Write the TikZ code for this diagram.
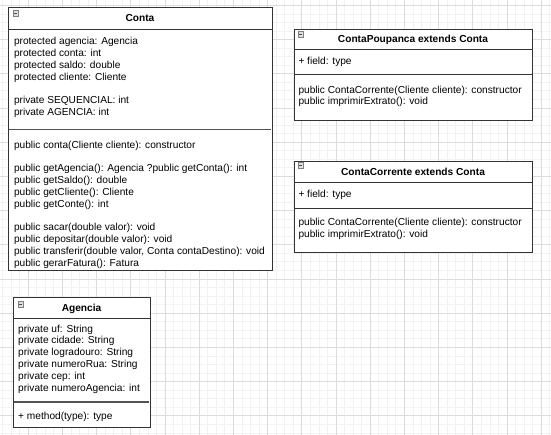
\documentclass[tikz,border=0pt]{standalone}
\usepackage{fontspec}
\setmainfont{Liberation Sans}
\usepackage{xcolor}

\definecolor{gridmajor}{HTML}{DCDCDC}
\definecolor{gridminor}{HTML}{F2F2F2}
\definecolor{umlline}{HTML}{333333}

\begin{document}
\begin{tikzpicture}[x=1pt, y=-1pt,
  every node/.style={inner sep=0pt, font=\fontsize{10.15}{11.8}\selectfont},
  classbox/.style={draw=umlline, fill=white, line width=0.9pt, anchor=north west},
  classname/.style={anchor=base, font=\fontsize{10.15}{12}\selectfont\bfseries},
  members/.style={anchor=north west, align=left},
  divider/.style={draw=umlline, line width=0.8pt},
  thickdivider/.style={draw=gray!65!black, line width=1.8pt},
  minusicon/.style={draw=gray, fill=gray!25, line width=0.5pt, anchor=north west,
    minimum size=5.5pt,
    path picture={\draw[line width=1.3pt, black!70]
      ([xshift=1pt]path picture bounding box.west) -- ([xshift=-1pt]path picture bounding box.east);}}
]
\useasboundingbox (0,0) rectangle (551,435);

% background grid
\begin{scope}
  \clip (0,0) rectangle (551,435);
  \fill[white] (0,0) rectangle (551,435);
  \begin{scope}[shift={(2.45,5.3)}]
    \draw[gridminor, line width=0.6pt, step=8.55pt] (-20,-20) grid (570,450);
  \end{scope}
  \begin{scope}[shift={(28.1,5.3)}]
    \draw[gridmajor, line width=0.7pt, step=34.2pt] (-60,-40) grid (560,450);
  \end{scope}
\end{scope}

% Conta
\node[classbox, minimum width=264pt, minimum height=263pt] (conta) at (8,7) {};
\node[minusicon] (contaicon) at (12.5,10.5) {};
\node[classname] (contaname) at (140,21.6) {Conta};
\draw[divider] (8,29) -- (272,29);
\node[members] (contaattr) at (13.8,37.3) {%
  protected agencia: Agencia\\ protected conta: int\\ protected saldo: double\\
  protected cliente: Cliente\\[11.8pt]
  private SEQUENCIAL: int\\ private AGENCIA: int};
\draw[thickdivider] (9,129.5) -- (271,129.5);
\node[members] (contaops) at (13.8,140.6) {%
  public conta(Cliente cliente): constructor\\[11.8pt]
  public getAgencia(): Agencia ?public getConta(): int\\ public getSaldo(): double\\
  public getCliente(): Cliente\\ public getConte(): int\\[11.8pt]
  public sacar(double valor): void\\ public depositar(double valor): void\\
  public transferir(double valor, Conta contaDestino): void\\
  public gerarFatura(): Fatura};

% ContaPoupanca
\node[classbox, minimum width=238pt, minimum height=91pt] (poupanca) at (294,29) {};
\node[minusicon] (poupancaicon) at (297.5,31.5) {};
\node[classname] (poupancaname) at (413,42.1) {ContaPoupanca extends Conta};
\draw[divider] (294,49.5) -- (532,49.5);
\node[members] (poupancaattr) at (298.3,56.6) {+ field: type};
\draw[divider] (294,74) -- (532,74);
\node[members] (poupancaops) at (298.3,85.6) {%
  public ContaCorrente(Cliente cliente): constructor\\ public imprimirExtrato(): void};

% ContaCorrente
\node[classbox, minimum width=238pt, minimum height=91pt] (corrente) at (294,161) {};
\node[minusicon] (correnteicon) at (297.5,162.5) {};
\node[classname] (correntename) at (413,175.1) {ContaCorrente extends Conta};
\draw[divider] (294,182.5) -- (532,182.5);
\node[members] (correnteattr) at (298.3,189.9) {+ field: type};
\draw[divider] (294,208) -- (532,208);
\node[members] (correnteops) at (298.3,218.3) {%
  public ContaCorrente(Cliente cliente): constructor\\ public imprimirExtrato(): void};

% Agencia
\node[classbox, minimum width=137pt, minimum height=130pt] (agencia) at (13,297) {};
\node[minusicon] (agenciaicon) at (17.5,301.5) {};
\node[classname] (agencianame) at (81.5,311.2) {Agencia};
\draw[divider] (13,318) -- (150,318);
\node[members] (agenciaattr) at (18,324.6) {%
  private uf: String\\ private cidade: String\\ private logradouro: String\\
  private numeroRua: String\\ private cep: int\\ private numeroAgencia: int};
\draw[thickdivider] (14,401.7) -- (149,401.7);
\node[members] (agenciaops) at (18,411.6) {+ method(type): type};
\end{tikzpicture}
\end{document}
